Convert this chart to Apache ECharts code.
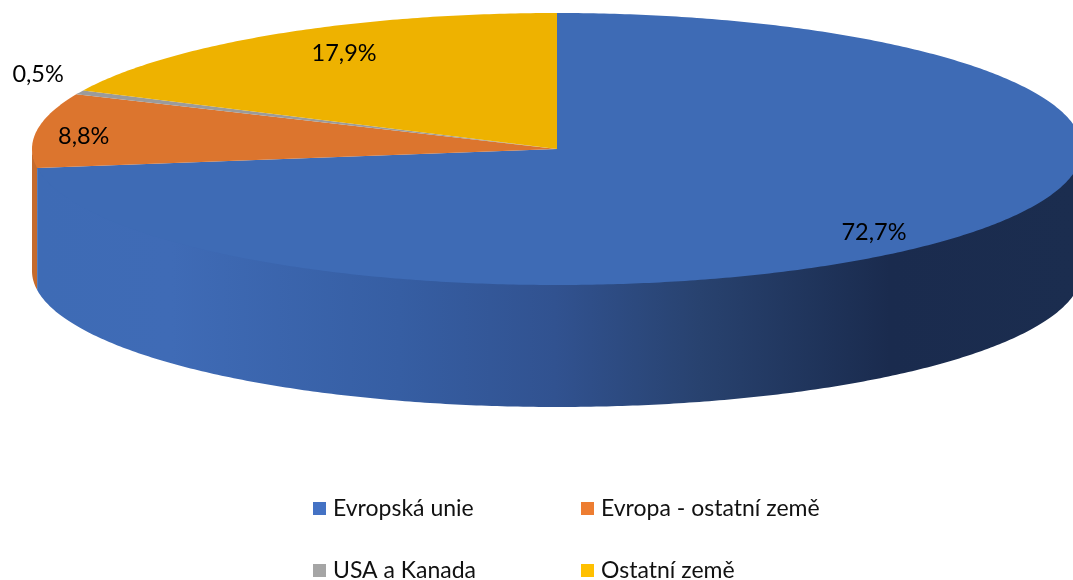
<!DOCTYPE html>
<html>
<head>
<meta charset="utf-8">
<style>html,body{margin:0;padding:0;background:#fff}#c{width:1073px;height:580px}</style>
<script src="https://cdn.jsdelivr.net/npm/echarts@6/dist/echarts.min.js"></script>
</head>
<body>
<div id="c"></div>
<script>
const categories = ['Evropská unie', 'Evropa - ostatní země', 'USA a Kanada', 'Ostatní země'];
const values = [72.7, 8.8, 0.5, 17.9];
const labels = ['72,7%', '8,8%', '0,5%', '17,9%'];
const legendColors = ['#4472C4', '#ED7D31', '#A5A5A5', '#FFC000'];
const topColors = ['#3E6BB5', '#DC752E', '#9B9B9B', '#EEB200'];
const wallColors = ['#3E6BB5', '#C56A2C', '#8A8A8A', '#C99600'];

// Projection of the tilted disc
const cx = 557, cy = 149, rx = 525, ry = 136, depth = 122;
// Label placement: factor along each ellipse radius, per slice
const labelFactorX = [0.80, 0.91, 1.087, 0.76];
const labelFactorY = [0.93, 0.67, 1.32, 0.83];
const legendLeft = [313, 581, 313, 581];
const legendTop = [497, 497, 559, 559];

const total = values.reduce((a, b) => a + b, 0);
const starts = [];
values.reduce((acc, v, i) => { starts[i] = acc; return acc + v; }, 0);
const angle = v => v / total * 2 * Math.PI;
const pt = (t, dy) => [cx + rx * Math.sin(t), cy - ry * Math.cos(t) + (dy || 0)];
const arc = (a, b, dy) => {
  const n = Math.max(2, Math.ceil((b - a) / 0.01)), out = [];
  for (let i = 0; i <= n; i++) out.push(pt(a + (b - a) * i / n, dy));
  return out;
};

function wallFill(i) {
  if (i !== 0) return wallColors[i];
  return new echarts.graphic.LinearGradient(37, 0, 1073, 0, [
    { offset: 0, color: '#3E6BB5' },
    { offset: 0.13, color: '#3F6BB6' },
    { offset: 0.35, color: '#365EA3' },
    { offset: 0.50, color: '#315290' },
    { offset: 0.64, color: '#28426F' },
    { offset: 0.823, color: '#1A2B4E' },
    { offset: 1, color: '#1B2D4F' }
  ], true);
}

function renderSlice(i) {
  return function (params, api) {
    const a = angle(api.value(0));
    const b = a + angle(api.value(1));
    const children = [];
    const wa = Math.max(a, Math.PI / 2), wb = Math.min(b, Math.PI * 1.5);
    if (wb > wa) {
      // the upper edge runs slightly under the top face so no seam shows
      const top = arc(wa, wb, -2), bottom = arc(wa, wb, depth).reverse();
      children.push({
        type: 'polygon',
        shape: { points: top.concat(bottom) },
        style: { fill: wallFill(i) }
      });
    }
    return { type: 'group', children: children };
  };
}
function renderTop(i) {
  return function (params, api) {
    const a = angle(api.value(0));
    const b = a + angle(api.value(1));
    const mid = (a + b) / 2;
    return {
      type: 'group',
      children: [{
        type: 'polygon',
        shape: { points: [[cx, cy]].concat(arc(a, b, 0)) },
        style: { fill: topColors[i] }
      }, {
        type: 'text',
        z2: 10,
        style: {
          text: labels[i],
          x: cx + rx * labelFactorX[i] * Math.sin(mid),
          y: cy - ry * labelFactorY[i] * Math.cos(mid),
          align: 'center',
          verticalAlign: 'middle',
          fill: '#000',
          fontFamily: 'Lato',
          fontSize: 23.5
        }
      }]
    };
  };
}

const wallOrder = [1, 2, 3, 0];
const series = [];
wallOrder.forEach(i => series.push({
  type: 'custom', coordinateSystem: 'none', silent: true, animation: false, z: 1,
  name: 'wall' + i,
  data: [[starts[i], values[i]]],
  renderItem: renderSlice(i)
}));
categories.forEach((name, i) => series.push({
  type: 'custom', coordinateSystem: 'none', silent: true, animation: false, z: 2,
  name: name,
  itemStyle: { color: legendColors[i] },
  data: [[starts[i], values[i]]],
  renderItem: renderTop(i)
}));

const chart = echarts.init(document.getElementById('c'), null, { renderer: 'canvas' });
chart.setOption({
  backgroundColor: '#fff',
  animation: false,
  legend: categories.map((name, i) => ({
    left: legendLeft[i], top: legendTop[i], padding: 0, selectedMode: false,
    itemWidth: 13, itemHeight: 13,
    icon: 'rect',
    data: [{ name: name, itemStyle: { color: legendColors[i] } }],
    textStyle: { fontFamily: 'Lato', fontSize: 23, color: '#111', padding: [0, 0, 0, 2] }
  })),
  series: series
});
</script>
</body>
</html>
